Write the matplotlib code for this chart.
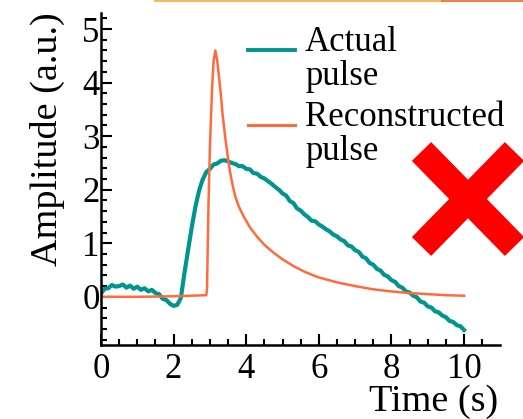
import numpy as np
import matplotlib
matplotlib.use("Agg")
import matplotlib.pyplot as plt
from matplotlib.lines import Line2D
from matplotlib.ticker import MultipleLocator

plt.rcParams['font.family'] = ['Liberation Serif', 'DejaVu Serif']

# actual pulse (noisy measurement), sampled every 0.1 s
t_actual = np.round(np.arange(0, 10.01, 0.1), 2)
y_actual = [0.06, 0.15, 0.16, 0.22, 0.19, 0.20, 0.23, 0.17, 0.21, 0.15,
            0.19, 0.13, 0.16, 0.10, 0.13, 0.07, 0.05, -0.04, -0.06, -0.13,
            -0.17, -0.15, -0.02, 0.45, 0.88, 1.30, 1.68, 1.98, 2.19, 2.33,
            2.39, 2.47, 2.49, 2.54, 2.55, 2.53, 2.50, 2.48, 2.44, 2.44,
            2.39, 2.38, 2.31, 2.30, 2.24, 2.21, 2.16, 2.11, 2.05, 2.00,
            1.93, 1.89, 1.79, 1.75, 1.65, 1.61, 1.54, 1.49, 1.42, 1.41,
            1.35, 1.31, 1.26, 1.22, 1.16, 1.13, 1.07, 1.04, 0.96, 0.94,
            0.87, 0.84, 0.75, 0.72, 0.63, 0.60, 0.52, 0.49, 0.41, 0.38,
            0.31, 0.28, 0.20, 0.17, 0.10, 0.08, 0.02, -0.01, -0.09, -0.11,
            -0.18, -0.20, -0.27, -0.29, -0.35, -0.38, -0.45, -0.47, -0.53, -0.55,
            -0.62]

# reconstructed pulse
t_rec = [0, 1, 2, 2.9, 2.92, 2.96, 3.0, 3.06, 3.1, 3.15, 3.2, 3.25, 3.29,
         3.35, 3.43, 3.5, 3.56, 3.63, 3.7, 3.8, 3.93, 4.1, 4.3, 4.5, 4.76,
         5.0, 5.31, 5.6, 5.96, 6.5, 7.0, 7.5, 8.0, 8.5, 9.0, 9.5, 10.0]
y_rec = [0, 0, 0.01, 0.03, 0.15, 1.7, 2.8, 3.9, 4.4, 4.6, 4.42, 4.1, 3.86,
         3.4, 2.93, 2.58, 2.31, 2.07, 1.87, 1.68, 1.5, 1.3, 1.12, 0.97, 0.82,
         0.7, 0.57, 0.47, 0.37, 0.27, 0.2, 0.14, 0.1, 0.07, 0.05, 0.03, 0.02]

labels = [["Actual", "pulse"], ["Reconstructed", "pulse"]]
teal = '#00968f'
orange = '#ff6b3d'

W, H = 523, 419
fig = plt.figure(figsize=(W/100, H/100), dpi=100)

def fx(px):
    return px / W

def fy(py):
    return 1 - py / H

ax = fig.add_axes([fx(101), 74/H, 399/W, 332/H])
ax.plot(t_actual, y_actual, color=teal, lw=3.0)
ax.plot(t_rec, y_rec, color=orange, lw=1.8)

ax.set_xlim(0, 10.99)
ax.set_ylim(-0.9, 5.3)
ax.xaxis.set_major_locator(MultipleLocator(2))
ax.xaxis.set_minor_locator(MultipleLocator(0.5))
ax.yaxis.set_major_locator(MultipleLocator(1))
ax.yaxis.set_minor_locator(MultipleLocator(0.2))
for s in ['top', 'right']:
    ax.spines[s].set_visible(False)
for s in ['left', 'bottom']:
    ax.spines[s].set_linewidth(1.8)
ax.tick_params(which='both', direction='in', width=1.5, labelsize=25)
ax.tick_params(which='major', length=8)
ax.tick_params(which='minor', length=4)
ax.tick_params(axis='y', pad=1)
ax.tick_params(axis='x', pad=6)

fig.text(fx(47), fy(139.5), "Amplitude (a.u.)", rotation=90, ha='center',
         va='center', fontsize=27.5)
fig.text(fx(498), fy(410.5), "Time (s)", ha='right', va='baseline', fontsize=27.5)

# legend drawn by hand to match the layout
fig.add_artist(Line2D([fx(248), fx(295)], [fy(50), fy(50)], color=teal, lw=2.8,
                      transform=fig.transFigure))
fig.add_artist(Line2D([fx(248), fx(295)], [fy(125), fy(125)], color=orange, lw=2.2,
                      transform=fig.transFigure))
for lines, base in zip(labels, [50.7, 126]):
    for k, txt in enumerate(lines):
        fig.text(fx(305), fy(base + 34.3 * k), txt, ha='left', va='baseline',
                 fontsize=25)

# red cross
fig.add_artist(Line2D([fx(421.5), fx(514.5)], [fy(151.5), fy(246.5)], color='red',
                      lw=19.4, solid_capstyle='butt', transform=fig.transFigure))
fig.add_artist(Line2D([fx(421.5), fx(514.5)], [fy(246.5), fy(151.5)], color='red',
                      lw=19.4, solid_capstyle='butt', transform=fig.transFigure))

# bits of coloured rule at the top edge
fig.add_artist(Line2D([fx(155), fx(442)], [fy(0.6), fy(0.6)], color='#f6a93b', lw=1.2,
                      transform=fig.transFigure))
fig.add_artist(Line2D([fx(442), fx(523)], [fy(0.6), fy(0.6)], color='#ee6a2b', lw=1.2,
                      transform=fig.transFigure))

fig.savefig('out.png', dpi=100)
